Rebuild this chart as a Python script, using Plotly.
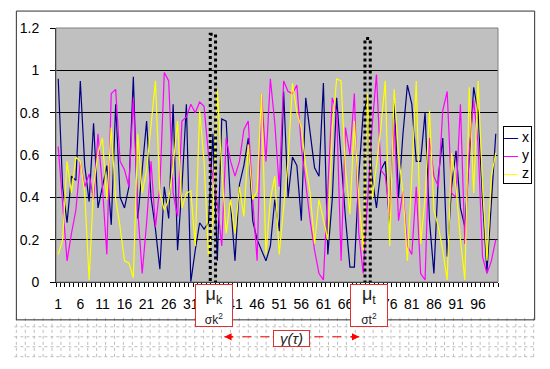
import plotly.graph_objects as go

# ---------------- data ----------------
categories = list(range(1, 101))

x_vals = [0.96, 0.45, 0.28, 0.50, 0.48, 0.95, 0.55, 0.38, 0.75, 0.35,
          0.45, 0.55, 0.27, 0.84, 0.40, 0.35, 0.45, 0.97, 0.30, 0.55,
          0.76, 0.40, 0.25, 0.06, 0.45, 0.30, 0.84, 0.15, 0.45, 0.84,
          0.00, 0.15, 0.28, 0.25, 0.28, 0.70, 0.10, 0.77, 0.76, 0.37,
          0.10, 0.46, 0.55, 0.68, 0.29, 0.20, 0.15, 0.10, 0.17, 0.39,
          0.24, 0.90, 0.40, 0.59, 0.55, 0.29, 0.87, 0.70, 0.54, 0.50,
          0.94, 0.13, 0.39, 0.87, 0.57, 0.30, 0.07, 0.07, 0.50, 0.80,
          0.87, 0.50, 0.35, 0.53, 0.57, 0.26, 0.86, 0.40, 0.70, 0.93,
          0.84, 0.57, 0.57, 0.80, 0.29, 0.04, 0.50, 0.68, 0.12, 0.45,
          0.62, 0.35, 0.26, 0.60, 0.92, 0.80, 0.39, 0.05, 0.39, 0.70]

y_vals = [0.64, 0.39, 0.10, 0.23, 0.34, 0.57, 0.45, 0.51, 0.39, 0.70,
          0.45, 0.13, 0.89, 0.91, 0.57, 0.53, 0.45, 0.87, 0.34, 0.04,
          0.28, 0.57, 0.26, 0.45, 0.99, 0.95, 0.42, 0.31, 0.76, 0.78,
          0.84, 0.80, 0.85, 0.83, 0.60, 0.50, 0.37, 0.17, 0.68, 0.57,
          0.50, 0.57, 0.72, 0.76, 0.39, 0.10, 0.89, 0.57, 0.96, 0.75,
          0.45, 0.95, 0.90, 0.89, 0.93, 0.64, 0.45, 0.29, 0.15, 0.04,
          0.01, 0.45, 0.87, 0.80, 0.10, 0.73, 0.60, 0.89, 0.23, 0.04,
          0.40, 0.73, 0.98, 0.53, 0.50, 0.31, 0.76, 0.29, 0.43, 0.17,
          0.13, 0.45, 0.04, 0.01, 0.68, 0.50, 0.45, 0.81, 0.90, 0.42,
          0.40, 0.84, 0.18, 0.62, 0.86, 0.65, 0.12, 0.04, 0.10, 0.20]

z_vals = [0.13, 0.20, 0.57, 0.42, 0.59, 0.57, 0.42, 0.01, 0.45, 0.61,
          0.68, 0.39, 0.73, 0.39, 0.26, 0.10, 0.09, 0.02, 0.70, 0.42,
          0.53, 0.73, 0.95, 0.42, 0.34, 0.39, 0.55, 0.76, 0.35, 0.42,
          0.43, 0.17, 0.81, 0.57, 0.12, 0.30, 0.91, 0.53, 0.23, 0.39,
          0.23, 0.45, 0.31, 0.65, 0.39, 0.43, 0.89, 0.13, 0.39, 0.50,
          0.13, 0.35, 0.57, 0.94, 0.80, 0.73, 0.55, 0.42, 0.18, 0.39,
          0.30, 0.20, 0.73, 0.96, 0.95, 0.53, 0.32, 0.76, 0.40, 0.15,
          0.89, 0.39, 0.55, 0.73, 0.95, 0.17, 0.91, 0.60, 0.42, 0.10,
          0.50, 0.95, 0.18, 0.40, 0.81, 0.34, 0.26, 0.15, 0.01, 0.61,
          0.45, 0.20, 0.01, 0.92, 0.42, 0.95, 0.46, 0.10, 0.50, 0.61]

series_names = ["x", "y", "z"]
series_colors = ["#000080", "#FF00FF", "#FFFF00"]

x_tick_labels = [str(c) for c in categories[::5]]
y_tick_values = [0, 0.2, 0.4, 0.6, 0.8, 1.0, 1.2]
y_tick_labels = ["0", "0.2", "0.4", "0.6", "0.8", "1", "1.2"]

window_centers = [36, 71]
window_tops = [1.17, 1.15]
window_means = ["μ<sub>k</sub>", "μ<sub>t</sub>"]
window_vars = ["σk<sup>2</sup>", "σt<sup>2</sup>"]
lag_label = "γ(τ)"
lag_span = [38.6, 69.1]

# ---------------- geometry helpers (reference pixel -> paper) ----------------
OFF = 8  # page body margin
W, H = 550 - OFF, 369 - OFF
L, R, T, B = 52, 498, 27, 282   # plot area in reference pixels


def px2x(px):
    return (px - L) / (R - L)


def py2y(py):
    return (B - py) / (B - T)


FONT = "Liberation Sans, Arial, sans-serif"

fig = go.Figure()
for name, vals, col in zip(series_names, [x_vals, y_vals, z_vals], series_colors):
    fig.add_trace(go.Scatter(x=categories, y=vals, mode="lines", name=name,
                             line=dict(color=col, width=1.2), showlegend=False))

shapes = []
# graph paper below the chart
gx = 12
while gx <= 536:
    shapes.append(dict(type="line", xref="paper", yref="paper",
                       x0=px2x(gx), x1=px2x(gx), y0=py2y(318), y1=py2y(359),
                       line=dict(color="#bdbdbd", width=1, dash="dot"), layer="below"))
    gx += 9
for gy in [327, 337, 347, 357]:
    shapes.append(dict(type="line", xref="paper", yref="paper",
                       x0=px2x(10), x1=px2x(536), y0=py2y(gy), y1=py2y(gy),
                       line=dict(color="#bdbdbd", width=1, dash="dot"), layer="below"))
# chart border
shapes.append(dict(type="rect", xref="paper", yref="paper",
                   x0=px2x(12), x1=px2x(535), y0=py2y(320), y1=py2y(10),
                   line=dict(color="#303030", width=1), fillcolor="rgba(0,0,0,0)"))
# plot area border (top/right)
shapes.append(dict(type="rect", xref="paper", yref="paper", x0=0, x1=1, y0=0, y1=1,
                   line=dict(color="#808080", width=1), fillcolor="rgba(0,0,0,0)"))
# dotted windows
for c, top in zip(window_centers, window_tops):
    shapes.append(dict(type="rect", xref="x", yref="y", x0=c - 0.6, x1=c + 0.6,
                       y0=-0.01, y1=top, line=dict(color="black", width=3, dash="dot"),
                       fillcolor="rgba(0,0,0,0)"))
# lag arrow (dashed)
shapes.append(dict(type="line", xref="x", yref="paper", x0=lag_span[0], x1=lag_span[1],
                   y0=py2y(337), y1=py2y(337), line=dict(color="red", width=1, dash="dash")))

annotations = []
for c, m, v in zip(window_centers, window_means, window_vars):
    annotations.append(dict(x=c + 0.3, xref="x", y=py2y(306), yref="paper",
                            text=m + "<br><span style='font-size:12px'>" + v + "</span>",
                            showarrow=False, font=dict(family=FONT, size=18, color="#222"),
                            width=36, height=41, bgcolor="white", bordercolor="#e03030",
                            borderwidth=1, borderpad=0, xanchor="center", yanchor="middle"))
# arrow heads
annotations.append(dict(x=lag_span[0], xref="x", y=py2y(337), yref="paper", text="",
                        showarrow=True, ax=10, ay=0, arrowhead=2, arrowsize=1.2,
                        arrowwidth=1.2, arrowcolor="red"))
annotations.append(dict(x=lag_span[1], xref="x", y=py2y(337), yref="paper", text="",
                        showarrow=True, ax=-10, ay=0, arrowhead=2, arrowsize=1.2,
                        arrowwidth=1.2, arrowcolor="red"))
annotations.append(dict(x=px2x(289.5), xref="paper", y=py2y(347), yref="paper",
                        text="<i>" + lag_label + "</i>", showarrow=False,
                        font=dict(family=FONT, size=15, color="#222"),
                        width=35, height=15, bgcolor="white", bordercolor="#e03030",
                        borderwidth=1, borderpad=0))
# legend box
legend_text = "<br>".join(
    "<span style='color:%s'>—</span> %s" % (col, n) for n, col in zip(series_names, series_colors))
annotations.append(dict(x=px2x(517.5), xref="paper", y=py2y(155), yref="paper",
                        text=legend_text, showarrow=False, align="left",
                        font=dict(family=FONT, size=14, color="black"),
                        width=27, height=56, bgcolor="white", bordercolor="black",
                        borderwidth=1, borderpad=0, xanchor="center", yanchor="middle"))

fig.update_layout(
    width=W, height=H,
    margin=dict(l=L - OFF, r=W - (R - OFF), t=T - OFF, b=H - (B - OFF), pad=0),
    paper_bgcolor="white", plot_bgcolor="#c0c0c0",
    font=dict(family=FONT, size=14, color="black"),
    shapes=shapes, annotations=annotations, showlegend=False,
    xaxis=dict(range=[0.5, 100.5], tickmode="array", tickvals=categories[::5],
               ticktext=x_tick_labels, ticks="outside", ticklen=9,
               tickcolor="rgba(0,0,0,0)", showgrid=False, zeroline=False,
               showline=True, linecolor="black", linewidth=1,
               minor=dict(ticks="outside", ticklen=4, tickcolor="black",
                          tickmode="linear", tick0=0.5, dtick=1, showgrid=False),
               tickfont=dict(size=14)),
    yaxis=dict(range=[0, 1.2], tickmode="array", tickvals=y_tick_values,
               ticktext=y_tick_labels, ticks="outside", ticklen=5, tickcolor="black",
               ticklabelstandoff=8,
               showgrid=True, gridcolor="black", gridwidth=1, zeroline=False,
               showline=True, linecolor="black", linewidth=1, tickfont=dict(size=14)),
)

fig.write_html("out.html")
